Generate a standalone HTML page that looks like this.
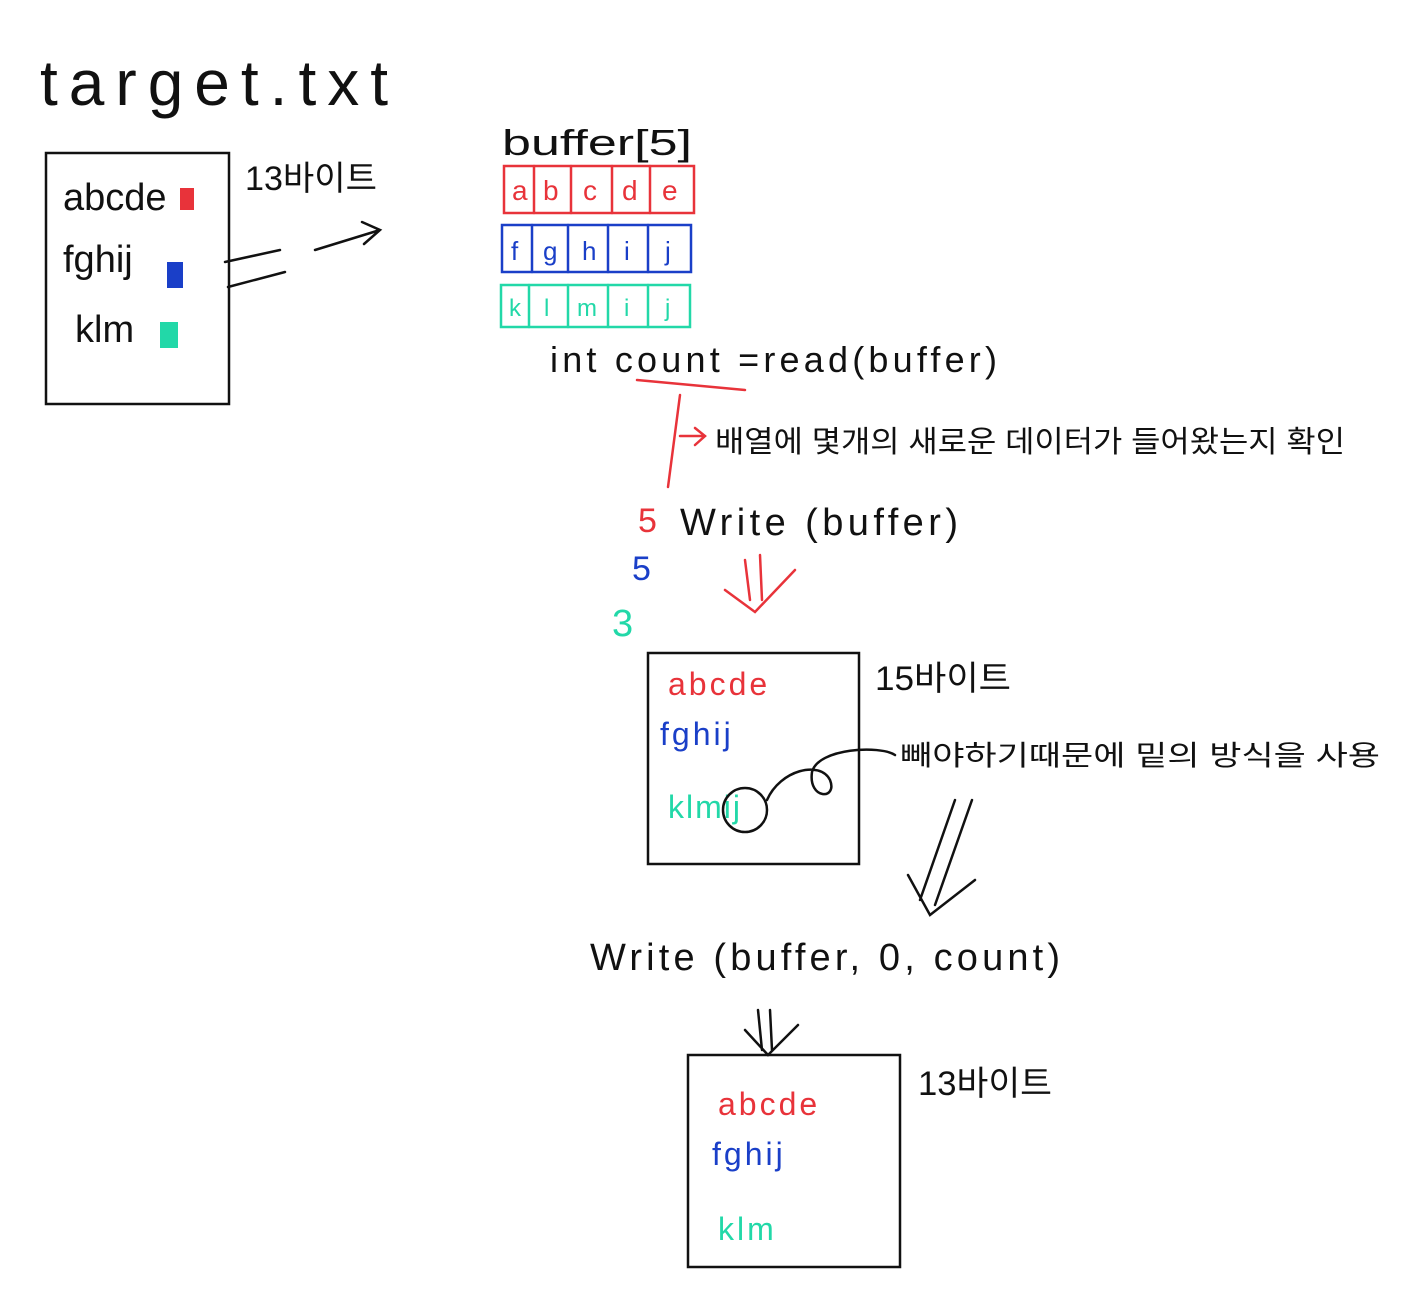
<!DOCTYPE html>
<html><head><meta charset="utf-8"><style>
html,body{margin:0;padding:0;background:#fff;}
svg{display:block}
text{font-family:"Liberation Sans","Noto Sans CJK KR",sans-serif;}
</style></head><body>
<svg width="1426" height="1306" viewBox="0 0 1426 1306" xmlns="http://www.w3.org/2000/svg">
<g fill="none" stroke="#111" stroke-width="2.5" stroke-linecap="round">
<text x="40" y="105" font-size="64" fill="#111" stroke="none" textLength="348" lengthAdjust="spacing">target.txt</text>
<rect x="46" y="153" width="183" height="251"/>
<text x="63" y="210" font-size="38" fill="#111" stroke="none">abcde</text>
<text x="63" y="272" font-size="38" fill="#111" stroke="none">fghij</text>
<text x="75" y="342" font-size="38" fill="#111" stroke="none">klm</text>
<rect x="180" y="188" width="14" height="22" fill="#e8333a" stroke="none"/>
<rect x="167" y="262" width="16" height="26" fill="#1a3fc8" stroke="none"/>
<rect x="160" y="322" width="18" height="26" fill="#22d8a8" stroke="none"/>
<text x="245" y="190" font-size="34" fill="#111" stroke="none" textLength="132" lengthAdjust="spacingAndGlyphs">13바이트</text>
<path d="M225 262 L280 250 M228 287 L285 272"/>
<path d="M315 250 L380 230 M362 222 L380 230 L364 244"/>

<text x="502" y="155" font-size="36" fill="#111" stroke="none" textLength="190" lengthAdjust="spacingAndGlyphs">buffer[5]</text>
<g stroke="#e8333a"><rect x="504" y="166" width="190" height="47"/><path d="M534 166V213M571 166V213M612 166V213M650 166V213"/></g>
<g fill="#e8333a" stroke="none" font-size="28"><text x="512" y="200">a</text><text x="543" y="200">b</text><text x="583" y="200">c</text><text x="622" y="200">d</text><text x="662" y="200">e</text></g>
<g stroke="#1a3fc8"><rect x="502" y="225" width="189" height="47"/><path d="M532 225V272M568 225V272M608 225V272M648 225V272"/></g>
<g fill="#1a3fc8" stroke="none" font-size="26"><text x="511" y="260">f</text><text x="543" y="260">g</text><text x="582" y="260">h</text><text x="624" y="260">i</text><text x="665" y="260">j</text></g>
<g stroke="#22d8a8"><rect x="501" y="285" width="189" height="42"/><path d="M529 285V327M568 285V327M608 285V327M648 285V327"/></g>
<g fill="#22d8a8" stroke="none" font-size="24"><text x="509" y="316">k</text><text x="544" y="316">l</text><text x="577" y="316">m</text><text x="624" y="316">i</text><text x="665" y="316">j</text></g>

<text x="550" y="372" font-size="36" fill="#111" stroke="none" textLength="447" lengthAdjust="spacing">int count =read(buffer)</text>
<g stroke="#e8333a"><path d="M637 380 L745 390 M680 395 L668 487 M680 436 L705 436 M695 428 L705 436 L695 445"/></g>
<text x="715" y="452" font-size="30" fill="#111" stroke="none" textLength="630" lengthAdjust="spacingAndGlyphs">배열에 몇개의 새로운 데이터가 들어왔는지 확인</text>

<text x="638" y="532" font-size="34" fill="#e8333a" stroke="none">5</text>
<text x="680" y="535" font-size="38" fill="#111" stroke="none" textLength="278" lengthAdjust="spacing">Write (buffer)</text>
<text x="632" y="580" font-size="34" fill="#1a3fc8" stroke="none">5</text>
<text x="612" y="636" font-size="38" fill="#22d8a8" stroke="none">3</text>
<g stroke="#e8333a"><path d="M745 560 L750 600 M760 555 L762 600 M725 590 L755 612 L795 570"/></g>

<rect x="648" y="653" width="211" height="211"/>
<text x="668" y="695" font-size="32" fill="#e8333a" stroke="none" letter-spacing="3">abcde</text>
<text x="660" y="745" font-size="32" fill="#1a3fc8" stroke="none" letter-spacing="3">fghij</text>
<text x="668" y="818" font-size="32" fill="#22d8a8" stroke="none" letter-spacing="2">klmij</text>
<circle cx="745" cy="810" r="22"/>
<path d="M767 800 C780 770 820 760 830 780 C838 800 808 800 812 772 C818 748 880 745 895 755"/>
<text x="875" y="690" font-size="34" fill="#111" stroke="none" textLength="136" lengthAdjust="spacingAndGlyphs">15바이트</text>
<text x="900" y="765" font-size="28" fill="#111" stroke="none" textLength="480" lengthAdjust="spacingAndGlyphs">빼야하기때문에  밑의 방식을 사용</text>
<path d="M955 800 L920 900 M972 800 L935 905 M908 875 L930 915 L975 880"/>

<text x="590" y="970" font-size="38" fill="#111" stroke="none" textLength="470" lengthAdjust="spacing">Write (buffer, 0, count)</text>
<path d="M758 1010 L762 1050 M770 1010 L772 1050 M745 1030 L768 1055 L798 1025"/>

<rect x="688" y="1055" width="212" height="212"/>
<text x="718" y="1115" font-size="32" fill="#e8333a" stroke="none" letter-spacing="3">abcde</text>
<text x="712" y="1165" font-size="32" fill="#1a3fc8" stroke="none" letter-spacing="3">fghij</text>
<text x="718" y="1240" font-size="32" fill="#22d8a8" stroke="none" letter-spacing="3">klm</text>
<text x="918" y="1095" font-size="34" fill="#111" stroke="none" textLength="134" lengthAdjust="spacingAndGlyphs">13바이트</text>
</g>
</svg>
</body></html>
